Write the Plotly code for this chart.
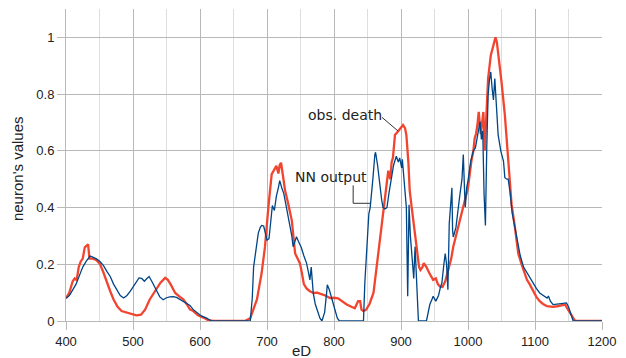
import plotly.graph_objects as go

# observed deaths (red) and network output (blue) against eD
obs_x = [400, 405, 410, 413, 416, 419, 422, 425, 428, 431, 433, 435, 440, 445, 451, 456, 461, 466, 471, 477,
         483, 491, 498, 505, 512, 518, 525, 530, 535, 541, 548, 552, 556, 563, 570, 575, 580, 585, 590, 597,
         605, 612, 620, 667, 675, 680, 685, 692, 697, 702, 707, 710, 714, 717, 719, 721, 724, 727, 731, 737,
         742, 746, 749, 752, 755, 759, 764, 769, 775, 781, 787, 794, 800, 806, 812, 819, 826, 831, 836, 839,
         841, 844, 848, 853, 859, 863, 866, 870, 873, 877, 881, 884, 886, 888, 891, 896, 899, 903, 906, 908,
         911, 913, 916, 919, 922, 924, 927, 929, 932, 934, 938, 942, 946, 948, 952, 955, 958, 962, 966, 971,
         975, 978, 982, 986, 990, 993, 997, 1000, 1005, 1008, 1010, 1012, 1014, 1016, 1019, 1021, 1023, 1025, 1027, 1030,
         1034, 1038, 1041, 1043, 1045, 1050, 1055, 1060, 1065, 1070, 1075, 1080, 1084, 1088, 1092, 1097, 1102, 1107, 1112, 1118,
         1123, 1127, 1133, 1140, 1145, 1148, 1152, 1156, 1160, 1200]
obs_y = [0.08, 0.10, 0.14, 0.15, 0.145, 0.19, 0.21, 0.22, 0.26, 0.265, 0.27, 0.22, 0.22, 0.215, 0.20, 0.17, 0.135, 0.105, 0.076, 0.05,
         0.035, 0.03, 0.025, 0.02, 0.022, 0.04, 0.076, 0.095, 0.116, 0.135, 0.152, 0.145, 0.13, 0.099, 0.085, 0.076, 0.06, 0.041, 0.035, 0.02,
         0.012, 0.003, 0.0, 0.0, 0.01, 0.04, 0.076, 0.169, 0.262, 0.40, 0.518, 0.53, 0.547, 0.52, 0.55, 0.558, 0.50, 0.46, 0.42, 0.355,
         0.238, 0.215, 0.204, 0.17, 0.13, 0.115, 0.105, 0.099, 0.10, 0.095, 0.09, 0.081, 0.082, 0.08, 0.07, 0.058, 0.05, 0.045, 0.07, 0.07,
         0.04, 0.035, 0.04, 0.06, 0.10, 0.18, 0.25, 0.32, 0.39, 0.46, 0.53, 0.50, 0.56, 0.576, 0.656, 0.67, 0.68, 0.691, 0.68, 0.656,
         0.56, 0.46, 0.40, 0.343, 0.28, 0.238, 0.19, 0.18, 0.19, 0.204, 0.19, 0.17, 0.155, 0.145, 0.15, 0.13, 0.122, 0.12, 0.14, 0.18,
         0.22, 0.262, 0.30, 0.331, 0.37, 0.401, 0.44, 0.47, 0.563, 0.60, 0.645, 0.66, 0.69, 0.737, 0.66, 0.70, 0.737, 0.60, 0.72, 0.855,
         0.936, 0.971, 1.0, 0.985, 0.948, 0.843, 0.727, 0.575, 0.412, 0.331, 0.238, 0.20, 0.17, 0.145, 0.13, 0.105, 0.085, 0.07, 0.06, 0.052,
         0.05, 0.05, 0.052, 0.056, 0.058, 0.045, 0.029, 0.015, 0.0, 0.0]

nn_x = [400, 405, 410, 415, 420, 425, 430, 436, 440, 446, 451, 456, 461, 466, 471, 476, 481, 486, 491, 496,
        501, 505, 509, 513, 517, 520, 524, 528, 532, 536, 540, 545, 550, 555, 560, 565, 570, 575, 580, 585,
        590, 596, 602, 610, 617, 675, 678, 680, 684, 687, 690, 692, 695, 698, 700, 703, 705, 708, 711, 714,
        717, 719, 722, 725, 727, 730, 734, 737, 739, 741, 744, 747, 751, 755, 759, 762, 764, 766, 769, 772,
        776, 779, 782, 786, 789, 790, 793, 797, 801, 805, 808, 844, 846, 848, 850, 852, 854, 856, 858, 861,
        862, 865, 867, 869, 871, 873, 876, 879, 882, 886, 889, 893, 896, 898, 901, 902, 904, 906, 908, 910,
        912, 914, 916, 919, 921, 924, 926, 938, 943, 946, 948, 952, 956, 959, 961, 964, 966, 968, 970, 972,
        974, 976, 977, 978, 982, 985, 988, 991, 993, 995, 996, 998, 1000, 1004, 1008, 1011, 1015, 1018, 1020, 1022,
        1024, 1026, 1028, 1030, 1032, 1034, 1036, 1038, 1040, 1043, 1045, 1049, 1053, 1055, 1058, 1060, 1063, 1066, 1070, 1074,
        1078, 1083, 1088, 1092, 1097, 1102, 1107, 1112, 1118, 1120, 1123, 1127, 1133, 1140, 1147, 1150, 1152, 1155, 1157, 1200]
nn_y = [0.08, 0.09, 0.11, 0.13, 0.16, 0.19, 0.21, 0.229, 0.225, 0.218, 0.209, 0.195, 0.175, 0.157, 0.13, 0.11, 0.09, 0.081, 0.09, 0.105,
        0.125, 0.14, 0.152, 0.15, 0.14, 0.148, 0.157, 0.14, 0.12, 0.10, 0.085, 0.075, 0.082, 0.085, 0.086, 0.083, 0.076, 0.07, 0.064, 0.055,
        0.04, 0.028, 0.018, 0.01, 0.0, 0.0, 0.08, 0.19, 0.27, 0.31, 0.33, 0.337, 0.335, 0.30, 0.285, 0.29, 0.35, 0.407, 0.39, 0.44,
        0.47, 0.495, 0.47, 0.45, 0.425, 0.39, 0.343, 0.30, 0.262, 0.28, 0.297, 0.28, 0.26, 0.23, 0.204, 0.17, 0.145, 0.19, 0.099, 0.06,
        0.029, 0.01, 0.0, 0.03, 0.10, 0.128, 0.11, 0.076, 0.04, 0.01, 0.0, 0.0, 0.134, 0.215, 0.30, 0.378, 0.40, 0.442, 0.50, 0.587,
        0.595, 0.55, 0.50, 0.47, 0.43, 0.401, 0.395, 0.40, 0.45, 0.505, 0.55, 0.581, 0.56, 0.575, 0.54, 0.57, 0.505, 0.436, 0.40, 0.087,
        0.41, 0.30, 0.227, 0.15, 0.262, 0.087, 0.0, 0.0, 0.058, 0.075, 0.087, 0.07, 0.09, 0.12, 0.134, 0.20, 0.238, 0.20, 0.11, 0.343,
        0.40, 0.47, 0.32, 0.296, 0.33, 0.38, 0.447, 0.50, 0.587, 0.45, 0.401, 0.47, 0.494, 0.563, 0.60, 0.61, 0.656, 0.703, 0.64, 0.67,
        0.447, 0.337, 0.61, 0.796, 0.85, 0.878, 0.82, 0.779, 0.855, 0.727, 0.656, 0.599, 0.563, 0.505, 0.50, 0.50, 0.45, 0.38, 0.33, 0.28,
        0.23, 0.19, 0.17, 0.15, 0.134, 0.115, 0.099, 0.09, 0.081, 0.088, 0.07, 0.058, 0.06, 0.062, 0.064, 0.05, 0.035, 0.012, 0.0, 0.0]

x_ticks = [400, 500, 600, 700, 800, 900, 1000, 1100, 1200]
y_ticks = [0, 0.2, 0.4, 0.6, 0.8, 1]

RED = "#f2452f"
BLUE = "#004586"
GRID = "#b8b8b8"
GRID_MINOR = "#dedede"
TEXT = "#222222"

fig = go.Figure()
fig.add_trace(go.Scatter(x=obs_x, y=obs_y, mode="lines", name="obs. death",
                         line=dict(color=RED, width=2.3)))
fig.add_trace(go.Scatter(x=nn_x, y=nn_y, mode="lines", name="NN output",
                         line=dict(color=BLUE, width=1.3)))

# callout for the observed curve: slanted leader line to the peak near 900
obs_tip = (895.5, 0.67)
fig.add_shape(type="line", xref="x", yref="y",
              x0=871.6, y0=0.718, x1=obs_tip[0], y1=obs_tip[1],
              line=dict(color="#333333", width=1))
fig.add_annotation(x=816, y=0.725, xref="x", yref="y", text="obs. death",
                   showarrow=False, font=dict(family="DejaVu Sans", size=14, color=TEXT))

# callout for the network curve: elbow leader line
nn_tip = (854, 0.415)
fig.add_shape(type="path", xref="x", yref="y",
              path=f"M 828.6,0.478 L 828.6,{nn_tip[1]} L {nn_tip[0]},{nn_tip[1]}",
              line=dict(color="#333333", width=1))
fig.add_annotation(x=795.5, y=0.506, xref="x", yref="y", text="NN output",
                   showarrow=False, font=dict(family="DejaVu Sans", size=14, color=TEXT))

# axis titles
fig.add_annotation(x=0.44, y=-0.06, xref="paper", yref="paper", text="eD",
                   showarrow=False, xanchor="center", yanchor="top",
                   font=dict(family="Liberation Sans", size=15, color=TEXT))
fig.add_annotation(x=-0.0914, y=0.487, xref="paper", yref="paper", text="neuron's values",
                   showarrow=False, textangle=-90, xanchor="center", yanchor="middle",
                   font=dict(family="Liberation Sans", size=15, color=TEXT))

fig.update_layout(
    width=626, height=358,
    margin=dict(l=66, r=24, t=9, b=33),
    paper_bgcolor="white", plot_bgcolor="white",
    showlegend=False,
    font=dict(family="Liberation Sans", size=13, color=TEXT),
    xaxis=dict(range=[400, 1200], tickvals=x_ticks, ticktext=[str(v) for v in x_ticks],
               showgrid=True, gridcolor=GRID, gridwidth=1,
               minor=dict(dtick=50, tick0=400, showgrid=True, gridcolor=GRID_MINOR, ticks=""),
               ticks="outside", ticklen=8, tickcolor=GRID,
               showline=True, linecolor=GRID, linewidth=1,
               zeroline=False, tickfont=dict(size=13, color=TEXT)),
    yaxis=dict(range=[0, 1.1], tickvals=y_ticks, ticktext=["0", "0.2", "0.4", "0.6", "0.8", "1"],
               showgrid=True, gridcolor=GRID, gridwidth=1,
               ticks="outside", ticklen=8, tickcolor=GRID,
               showline=True, linecolor=GRID, linewidth=1,
               zeroline=False, tickfont=dict(size=13, color=TEXT)),
)

fig.write_html("out.html")
